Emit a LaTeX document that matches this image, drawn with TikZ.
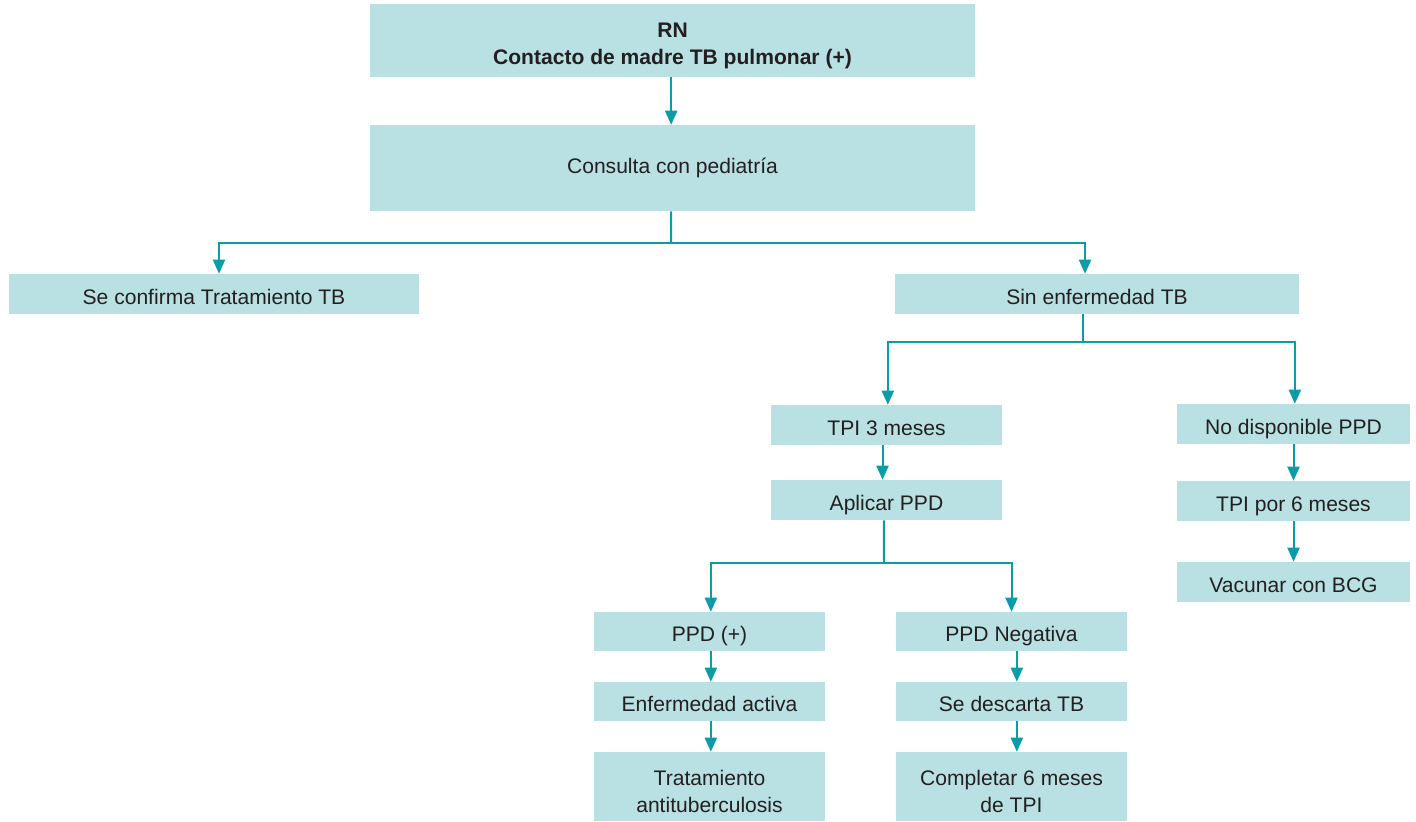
\documentclass[tikz,border=0pt]{standalone}
\usepackage{fontspec}
\setmainfont{Liberation Sans}
\usetikzlibrary{arrows.meta}
\definecolor{boxfill}{HTML}{B9E1E3}
\definecolor{linecol}{HTML}{0A9DA8}
\definecolor{txt}{HTML}{231F20}
\tikzset{
  fbox/.style={rectangle, fill=boxfill, draw=none, inner sep=0pt, align=center,
    text=txt, font=\fontsize{15.8pt}{20.25pt}\selectfont,
    text height=15pt, text depth=0pt},
  twoline/.style={text depth=0pt},
  link/.style={draw=linecol, line width=1.5pt},
  arr/.style={link, -{Triangle[width=9pt,length=10.5pt]}},
}
\begin{document}
\begin{tikzpicture}[x=0.75pt,y=-0.75pt]
\useasboundingbox (0,0) rectangle (1416,821);
% boxes
\node[fbox, text height=36.2pt, minimum width=453.75pt, minimum height=54.75pt] (top) at (672.5,40.5)
  {\textbf{RN}\\\textbf{Contacto de madre TB pulmonar (+)}};
\node[fbox, text height=8.4pt, minimum width=453.75pt, minimum height=64.5pt] (cons) at (672.5,168) {Consulta con pediatría};
\node[fbox, minimum width=307.5pt, minimum height=30pt] (conf) at (214,294) {Se confirma Tratamiento TB};
\node[fbox, minimum width=303pt, minimum height=30pt] (sin) at (1097,294) {Sin enfermedad TB};
\node[fbox, minimum width=173.25pt, minimum height=30pt] (tpi3) at (886.5,425) {TPI 3 meses};
\node[fbox, minimum width=174.75pt, minimum height=30pt] (nodisp) at (1293.5,424) {No disponible PPD};
\node[fbox, minimum width=173.25pt, minimum height=30pt] (apl) at (886.5,500) {Aplicar PPD};
\node[fbox, minimum width=174.75pt, minimum height=30pt] (tpi6) at (1293.5,501) {TPI por 6 meses};
\node[fbox, minimum width=174.75pt, minimum height=30pt] (vac) at (1293.5,582) {Vacunar con BCG};
\node[fbox, minimum width=173.25pt, minimum height=29.25pt] (ppdp) at (709.5,631.5) {PPD (+)};
\node[fbox, minimum width=173.25pt, minimum height=29.25pt] (ppdn) at (1011.5,631.5) {PPD Negativa};
\node[fbox, minimum width=173.25pt, minimum height=29.25pt] (enf) at (709.5,701.5) {Enfermedad activa};
\node[fbox, minimum width=173.25pt, minimum height=29.25pt] (desc) at (1011.5,701.5) {Se descarta TB};
\node[fbox, text height=39.2pt, minimum width=173.25pt, minimum height=51.75pt] (trat) at (709.5,786.5) {Tratamiento\\antituberculosis};
\node[fbox, text height=39.2pt, minimum width=173.25pt, minimum height=51.75pt] (comp) at (1011.5,786.5) {Completar 6 meses\\de TPI};
% junction coordinates
\coordinate (j1) at (671,243);
\coordinate (j2) at (1083,342);
\coordinate (j3) at (884,563);
% connectors
\draw[arr] ([xshift=-1pt]top.south) -- ([xshift=-1pt]cons.north);
\draw[link] ([xshift=-1pt]cons.south) -- (j1);
\draw[arr] (j1) -| ([xshift=3.75pt]conf.north);
\draw[arr] (j1) -| ([xshift=-9pt]sin.north);
\draw[link] ([xshift=-10.5pt]sin.south) -- (j2);
\draw[arr] (j2) -| ([xshift=1pt]tpi3.north);
\draw[arr] (j2) -| ([xshift=1pt]nodisp.north);
\draw[arr] ([xshift=-3pt]tpi3.south) -- ([xshift=-3pt]apl.north);
\draw[arr] (nodisp.south) -- (tpi6.north);
\draw[arr] (tpi6.south) -- (vac.north);
\draw[link] ([xshift=-2pt]apl.south) -- (j3);
\draw[arr] (j3) -| ([xshift=1pt]ppdp.north);
\draw[arr] (j3) -| (ppdn.north);
\draw[arr] ([xshift=1pt]ppdp.south) -- ([xshift=1pt]enf.north);
\draw[arr] ([xshift=1pt]enf.south) -- ([xshift=1pt]trat.north);
\draw[arr] ([xshift=4pt]ppdn.south) -- ([xshift=4pt]desc.north);
\draw[arr] ([xshift=4pt]desc.south) -- ([xshift=4pt]comp.north);
\end{tikzpicture}
\end{document}
